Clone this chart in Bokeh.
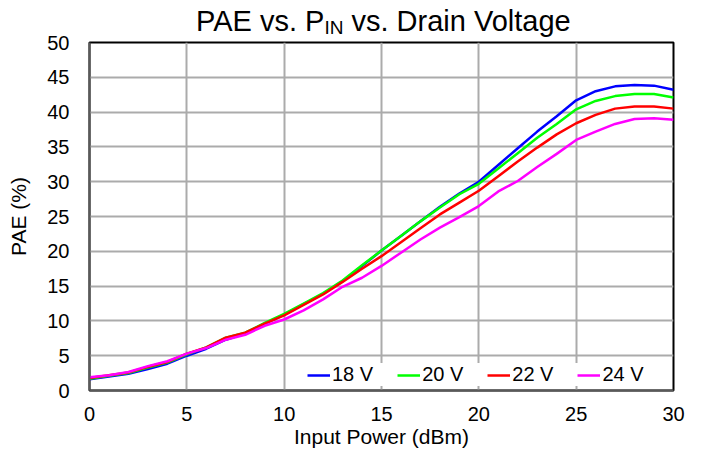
from bokeh.plotting import figure
from bokeh.models import Range1d, FixedTicker, Legend, LegendItem, Div
from bokeh.layouts import column
from bokeh.embed import file_html
from bokeh.resources import INLINE

# ---- data ----
pin_dbm = list(range(0, 31))
pae_18v = [1.6, 2.0, 2.4, 3.1, 3.85, 5.0, 6.0, 7.3, 8.2, 9.6, 10.9, 12.4, 13.9, 15.7, 17.9, 20.1,
           22.2, 24.3, 26.4, 28.3, 30.0, 32.4, 34.8, 37.2, 39.4, 41.7, 43.0, 43.7, 43.9, 43.8, 43.2]
pae_20v = [1.7, 2.1, 2.5, 3.3, 4.0, 5.2, 6.2, 7.6, 8.3, 9.7, 11.0, 12.5, 14.0, 15.8, 18.0, 20.1,
           22.2, 24.3, 26.3, 28.2, 29.7, 31.9, 34.1, 36.3, 38.3, 40.4, 41.6, 42.3, 42.6, 42.6, 42.1]
pae_22v = [1.8, 2.2, 2.6, 3.4, 4.1, 5.3, 6.2, 7.6, 8.3, 9.6, 10.8, 12.3, 13.8, 15.6, 17.5, 19.3,
           21.3, 23.3, 25.3, 27.0, 28.7, 30.8, 32.9, 34.9, 36.8, 38.4, 39.6, 40.5, 40.8, 40.8, 40.5]
pae_24v = [1.9, 2.2, 2.65, 3.5, 4.2, 5.3, 6.1, 7.3, 8.0, 9.3, 10.2, 11.5, 13.1, 14.9, 16.2, 17.9,
           19.8, 21.7, 23.4, 24.9, 26.5, 28.6, 30.1, 32.1, 34.0, 36.0, 37.2, 38.3, 39.0, 39.1, 38.9]
series_labels = ["18 V", "20 V", "22 V", "24 V"]
x_ticks = [0, 5, 10, 15, 20, 25, 30]
y_ticks = [0, 5, 10, 15, 20, 25, 30, 35, 40, 45, 50]
title_main = "PAE vs. P"
title_sub = "IN"
title_rest = " vs. Drain Voltage"
x_title = "Input Power (dBm)"
y_title = "PAE (%)"

# ---- styles ----
series_colors = ["#0000FF", "#00FF00", "#FF0000", "#FF00FF"]
FONT = "Liberation Sans"
W = 694

title_div = Div(
    text=(f'<span style="position:relative;top:6px">{title_main}'
          f'<span style="font-size:19px;position:relative;top:3px">{title_sub}</span>'
          f'{title_rest}</span>'),
    width=W, height=30, margin=0,
    styles={"font-family": FONT, "font-size": "29px", "color": "black",
            "line-height": "30px", "padding-left": "196px", "white-space": "nowrap",
            "overflow": "visible", "position": "relative", "z-index": "5"},
)

p = figure(width=W, height=421, output_backend="svg", toolbar_location=None,
           x_range=Range1d(0, 30), y_range=Range1d(0, 50),
           min_border_left=89, min_border_right=21, min_border_top=12, min_border_bottom=61)
p.title.visible = False

renderers = []
for ys, c in zip([pae_18v, pae_20v, pae_22v, pae_24v], series_colors):
    r = p.line(pin_dbm, ys, line_color=c, line_width=2.5)
    renderers.append(r)

for ax, ticks in ((p.xaxis[0], x_ticks), (p.yaxis[0], y_ticks)):
    ax.ticker = FixedTicker(ticks=ticks)
    ax.major_tick_in = 0
    ax.major_tick_out = 0
    ax.minor_tick_in = 0
    ax.minor_tick_out = 0
    ax.axis_line_color = "#595959"
    ax.axis_line_width = 2
    ax.major_label_text_font = FONT
    ax.major_label_text_font_size = "20px"
    ax.major_label_text_color = "black"
    ax.axis_label_text_font = FONT
    ax.axis_label_text_font_size = "21px"
    ax.axis_label_text_font_style = "normal"
    ax.axis_label_text_color = "black"

p.xaxis.axis_label = x_title
p.yaxis.axis_label = y_title
p.xaxis.major_label_standoff = 16
p.yaxis.major_label_standoff = 20
p.xaxis.axis_label_standoff = 1
p.yaxis.axis_label_standoff = 14

p.xgrid.ticker = FixedTicker(ticks=x_ticks)
p.ygrid.ticker = FixedTicker(ticks=y_ticks)
for g in (p.xgrid[0], p.ygrid[0]):
    g.grid_line_color = "#ABABAB"
    g.grid_line_width = 2

p.outline_line_color = "black"
p.outline_line_width = 2
p.background_fill_color = "white"
p.border_fill_color = "white"
p.border_fill_alpha = 0

legend = Legend(items=[LegendItem(label=l, renderers=[r]) for l, r in zip(series_labels, renderers)],
                orientation="horizontal", location=(218, 4),
                border_line_color=None, background_fill_color="white", background_fill_alpha=1,
                label_text_font=FONT, label_text_font_size="20px", label_text_color="black",
                glyph_width=23, glyph_height=20, label_height=20, label_standoff=2,
                spacing=24, padding=7, margin=0)
p.add_layout(legend)

layout = column(title_div, p, spacing=0)
open("out.html", "w").write(file_html(layout, INLINE))
